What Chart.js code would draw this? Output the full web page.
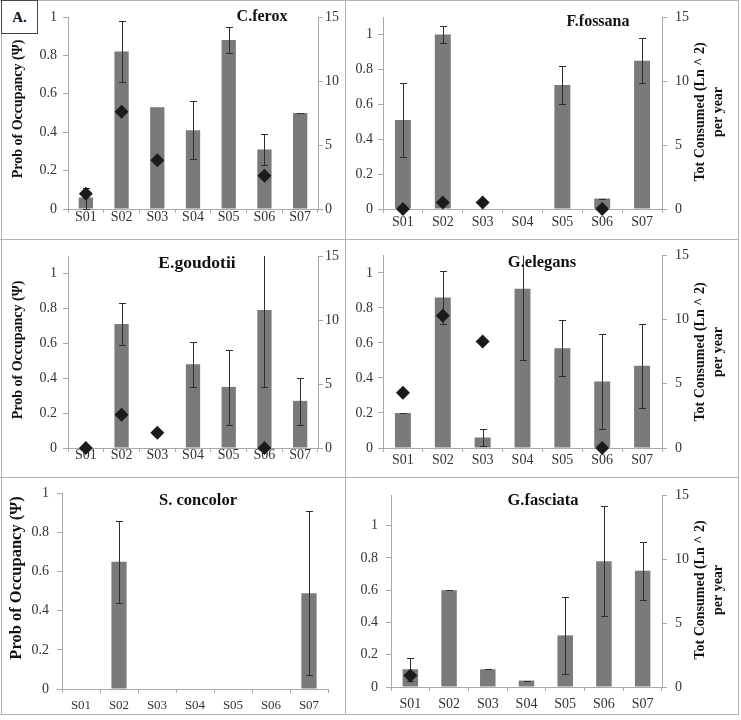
<!DOCTYPE html>
<html>
<head>
<meta charset="utf-8">
<script src="https://cdn.jsdelivr.net/npm/chart.js@4.4.0/dist/chart.umd.min.js"></script>
<style>
  html, body { margin: 0; padding: 0; background: #fff; }
  #fig { position: relative; width: 741px; height: 720px; overflow: hidden; }
  #fig canvas { position: absolute; }
  .ln { position: absolute; background: #b4b4b4; }
  #tag {
    position: absolute; left: 1px; top: 0; width: 35px; height: 32px;
    border: 1px solid #444; background: #fff;
    font: bold 15px "Liberation Serif", serif; text-align: center; line-height: 32px; color: #111;
  }
</style>
</head>
<body>
<div id="fig">
  <canvas id="c1" width="345" height="239" style="left:0;top:0"></canvas>
  <canvas id="c2" width="396" height="239" style="left:345px;top:0"></canvas>
  <canvas id="c3" width="345" height="238" style="left:0;top:239px"></canvas>
  <canvas id="c4" width="396" height="238" style="left:345px;top:239px"></canvas>
  <canvas id="c5" width="345" height="243" style="left:0;top:477px"></canvas>
  <canvas id="c6" width="396" height="243" style="left:345px;top:477px"></canvas>

  <div class="ln" style="left:0;top:0;width:739px;height:1px"></div>
  <div class="ln" style="left:0;top:239px;width:739px;height:1px"></div>
  <div class="ln" style="left:0;top:477px;width:739px;height:1px"></div>
  <div class="ln" style="left:0;top:714px;width:739px;height:1px"></div>
  <div class="ln" style="left:1px;top:0;width:1px;height:715px"></div>
  <div class="ln" style="left:345px;top:0;width:1px;height:715px"></div>
  <div class="ln" style="left:738px;top:0;width:1px;height:715px"></div>
  <div id="tag">A.</div>
</div>
<script>
const SERIF = '"Liberation Serif", "Times New Roman", serif';
Chart.defaults.font.family = SERIF;
Chart.defaults.color = '#3a3a3a';
Chart.defaults.animation = false;

const sites = ['S01', 'S02', 'S03', 'S04', 'S05', 'S06', 'S07'];

// C.ferox
const feroxOcc = [0.06, 0.82, 0.53, 0.41, 0.88, 0.31, 0.50];
const feroxLo = [0.00, 0.66, null, 0.26, 0.81, 0.23, 0.50];
const feroxHi = [0.11, 0.98, null, 0.56, 0.95, 0.39, 0.50];
const feroxCons = [1.2, 7.6, 3.8, null, null, 2.6, null];

// F.fossana
const fossOcc = [0.51, 1.00, 0, 0, 0.71, 0.06, 0.85];
const fossLo = [0.30, 0.95, null, null, 0.60, 0.06, 0.72];
const fossHi = [0.72, 1.05, null, null, 0.82, 0.06, 0.98];
const fossCons = [0, 0.5, 0.5, null, null, 0, null];

// E.goudotii
const goudOcc = [0, 0.71, 0, 0.48, 0.35, 0.79, 0.27];
const goudLo = [null, 0.59, null, 0.35, 0.13, 0.35, 0.13];
const goudHi = [null, 0.83, null, 0.61, 0.56, 1.23, 0.40];
const goudCons = [0, 2.6, 1.2, null, null, 0, null];

// G.elegans
const elegOcc = [0.20, 0.86, 0.06, 0.91, 0.57, 0.38, 0.47];
const elegLo = [0.20, 0.71, 0.01, 0.50, 0.41, 0.11, 0.23];
const elegHi = [0.20, 1.01, 0.11, 1.32, 0.73, 0.65, 0.71];
const elegCons = [4.3, 10.3, 8.3, null, null, 0, null];

// S. concolor (no consumption series)
const concOcc = [0, 0.65, 0, 0, 0, 0, 0.49];
const concLo = [null, 0.44, null, null, null, null, 0.07];
const concHi = [null, 0.86, null, null, null, null, 0.91];

// G.fasciata
const fascOcc = [0.11, 0.60, 0.11, 0.04, 0.32, 0.78, 0.72];
const fascLo = [0.04, 0.60, 0.11, 0.04, 0.08, 0.44, 0.54];
const fascHi = [0.18, 0.60, 0.11, 0.04, 0.56, 1.12, 0.90];
const fascCons = [0.9, null, null, null, null, null, null];

const occTicks = [0, 0.2, 0.4, 0.6, 0.8, 1];
const consTicks = [0, 5, 10, 15];
const leftTitle = 'Prob of Occupancy (Ψ)';
const rightTitle = ['Tot Consumed (Ln ^ 2)', 'per year'];

const BAR = '#7a7a7a';
const AXIS = '#a9a9a9';

// error bars drawn right after the bar dataset, before the diamonds
const errorBars = {
  id: 'errorBars',
  afterDatasetDraw(chart, args, opts) {
    if (args.index !== 0 || !opts.lo) return;
    const { ctx, chartArea: a } = chart;
    const xs = chart.scales.x, ys = chart.scales.y;
    ctx.save();
    ctx.beginPath();
    ctx.rect(a.left, a.top, a.right - a.left, a.bottom - a.top + 1);
    ctx.clip();
    ctx.strokeStyle = '#2e2e2e';
    ctx.lineWidth = 1;
    opts.lo.forEach((lo, i) => {
      const hi = opts.hi[i];
      if (lo == null || hi == null) return;
      const x = Math.round(xs.getPixelForValue(i)) + 0.5;
      const yl = Math.round(ys.getPixelForValue(lo)) + 0.5;
      const yh = Math.round(ys.getPixelForValue(hi)) + 0.5;
      ctx.beginPath();
      ctx.moveTo(x, yl); ctx.lineTo(x, yh);
      ctx.moveTo(x - 3.5, yl); ctx.lineTo(x + 3.5, yl);
      ctx.moveTo(x - 3.5, yh); ctx.lineTo(x + 3.5, yh);
      ctx.stroke();
    });
    ctx.restore();
  }
};

// species name + axis titles
const panelText = {
  id: 'panelText',
  afterDraw(chart, args, o) {
    const ctx = chart.ctx;
    ctx.save();
    ctx.fillStyle = '#111';
    ctx.textAlign = 'center';
    ctx.textBaseline = 'middle';
    ctx.font = `bold ${o.nameSize}px ${SERIF}`;
    ctx.fillText(o.name, o.nameX, o.nameY);
    if (o.left) {
      ctx.save();
      ctx.translate(o.left[0], o.left[1]);
      ctx.rotate(-Math.PI / 2);
      ctx.font = `bold ${o.left[2]}px ${SERIF}`;
      ctx.fillText(leftTitle, 0, 0);
      ctx.restore();
    }
    if (o.right) {
      ctx.save();
      ctx.translate(o.right[0], o.right[1]);
      ctx.rotate(-Math.PI / 2);
      ctx.font = `bold ${o.right[2]}px ${SERIF}`;
      ctx.fillText(rightTitle[0], 0, 0);
      ctx.fillText(rightTitle[1], 0, 18);
      ctx.restore();
    }
    ctx.restore();
  }
};

function onFifth(s) {
  s.ticks = s.ticks.filter(t => occTicks.some(v => Math.abs(v - t.value) < 1e-6));
}

function panel(id, p) {
  const datasets = [{
    data: p.occ,
    backgroundColor: BAR,
    barPercentage: 0.4,
    categoryPercentage: 1,
    yAxisID: 'y',
    order: 2,
  }];
  if (p.cons) {
    datasets.push({
      type: 'line',
      data: p.cons,
      yAxisID: 'y2',
      showLine: false,
      pointStyle: 'rectRot',
      pointRadius: 7,
      pointBackgroundColor: '#1b1b1b',
      pointBorderWidth: 0,
      clip: false,
      order: 1,
    });
  }
  const scales = {
    x: {
      grid: { offset: true, drawOnChartArea: false, tickLength: 4, color: AXIS },
      border: { color: AXIS },
      ticks: { font: { size: p.xSize || 14, lineHeight: 1 }, padding: p.xPad, color: '#333' },
      afterFit: s => { s.height = p.m[3]; },
    },
    y: {
      position: 'left',
      min: 0,
      max: p.max,
      grid: { drawOnChartArea: false, tickLength: 5, color: AXIS },
      border: { color: AXIS },
      ticks: { stepSize: 0.2, font: { size: 14 }, padding: p.yPad, color: '#333', callback: v => String(+v.toFixed(1)) },
      afterBuildTicks: onFifth,
      afterFit: s => { s.width = p.m[0]; },
    },
  };
  if (p.cons) {
    scales.y2 = {
      position: 'right',
      min: 0,
      max: 15,
      grid: { drawOnChartArea: false, tickLength: 5, color: AXIS },
      border: { color: AXIS },
      ticks: { stepSize: 5, font: { size: 14 }, padding: p.y2Pad, color: '#333' },
      afterBuildTicks: s => { s.ticks = s.ticks.filter(t => consTicks.includes(t.value)); },
      afterFit: s => { s.width = p.m[1]; },
    };
  }
  return new Chart(document.getElementById(id), {
    type: 'bar',
    data: { labels: sites, datasets },
    options: {
      responsive: false,
      layout: { padding: { top: p.m[2], left: 0, right: p.cons ? 0 : p.m[1], bottom: 0 } },
      scales,
      plugins: {
        legend: { display: false },
        tooltip: { enabled: false },
        errorBars: { lo: p.lo, hi: p.hi },
        panelText: p.text,
      },
    },
    plugins: [errorBars, panelText],
  });
}

// m = [left, right, top, bottom] margins around the plot area
panel('c1', {
  occ: feroxOcc, lo: feroxLo, hi: feroxHi, cons: feroxCons, max: 1,
  m: [68, 27, 17, 30], xPad: -3, yPad: 6, y2Pad: 2,
  text: { name: 'C.ferox', nameX: 262, nameY: 17, nameSize: 16, left: [18, 109, 14] },
});
panel('c2', {
  occ: fossOcc, lo: fossLo, hi: fossHi, cons: fossCons, max: 1.1,
  m: [38, 79, 17, 30], xPad: 2, yPad: 5, y2Pad: 8,
  text: { name: 'F.fossana', nameX: 253, nameY: 22, nameSize: 16, right: [355, 112, 14] },
});
panel('c3', {
  occ: goudOcc, lo: goudLo, hi: goudHi, cons: goudCons, max: 1.1,
  m: [68, 27, 17, 29], xPad: -4, yPad: 6, y2Pad: 2,
  text: { name: 'E.goudotii', nameX: 197, nameY: 24, nameSize: 17.5, left: [18, 111, 14] },
});
panel('c4', {
  occ: elegOcc, lo: elegLo, hi: elegHi, cons: elegCons, max: 1.1,
  m: [38, 79, 16, 29], xPad: 1, yPad: 5, y2Pad: 8,
  text: { name: 'G.elegans', nameX: 197, nameY: 24, nameSize: 16.5, right: [355, 113, 14] },
});
panel('c5', {
  occ: concOcc, lo: concLo, hi: concHi, cons: null, max: 1,
  m: [62, 17, 16, 31], xPad: 6, xSize: 13, yPad: 8,
  text: { name: 'S. concolor', nameX: 198, nameY: 24, nameSize: 16.5, left: [17, 101, 16.5] },
});
panel('c6', {
  occ: fascOcc, lo: fascLo, hi: fascHi, cons: fascCons, max: 1.19,
  m: [46, 79, 18, 33], xPad: 6, yPad: 8, y2Pad: 8,
  text: { name: 'G.fasciata', nameX: 198, nameY: 24, nameSize: 16.5, right: [355, 113, 14] },
});
</script>
</body>
</html>
